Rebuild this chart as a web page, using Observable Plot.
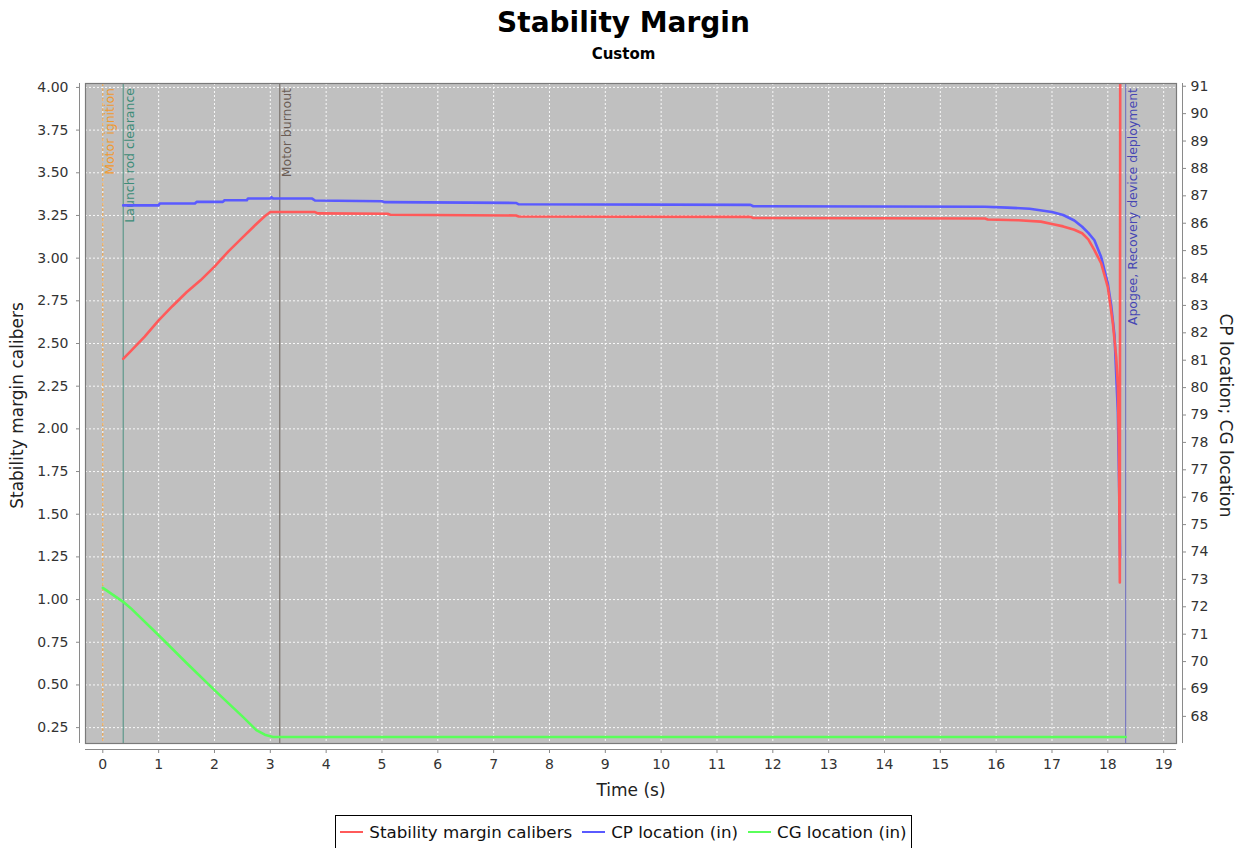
<!DOCTYPE html>
<html>
<head>
<meta charset="utf-8">
<script src="https://cdn.jsdelivr.net/npm/d3@7"></script>
<script src="https://cdn.jsdelivr.net/npm/@observablehq/plot@0.6"></script>
<style>
  html, body { margin: 0; padding: 0; background: #fff; }
  body { width: 1247px; height: 848px; overflow: hidden; font-family: "DejaVu Sans", sans-serif; color: #000; }
  #title { height: 45px; line-height: 45px; text-align: center; font-weight: bold; font-size: 28px; }
  #subtitle { height: 19px; line-height: 19px; text-align: center; font-weight: bold; font-size: 15px; }
  #chart svg { display: block; }
  #legend { width: fit-content; margin: 7px auto 0 auto; border: 1px solid #000; height: 40px; padding: 0 4px 6px 4px;
            display: flex; align-items: center; font-size: 16.7px; color: #111; box-sizing: border-box; }
  #legend .sw { display: inline-block; width: 23px; height: 2px; margin-right: 6px; }
  #legend .item { display: flex; align-items: center; margin-right: 10px; }
  #legend .item:last-child { margin-right: 0; }
</style>
</head>
<body>
<div id="title">Stability Margin</div>
<div id="subtitle">Custom</div>
<div id="chart"></div>
<div id="legend"></div>
<script>
// ---- Data ----
const seriesNames = ["Stability margin calibers", "CP location (in)", "CG location (in)"];

// Stability margin (left axis, calibers)
const stabilityTime  = [0.365, 0.47, 0.75, 1.0, 1.25, 1.5, 1.75, 2.0, 2.25, 2.5, 2.75, 2.9, 3.0, 3.8, 3.85, 5.1, 5.15, 7.4, 7.45, 11.6, 11.65, 15.8, 15.85, 16.4, 16.8, 17.0, 17.2, 17.4, 17.54, 17.65, 17.76, 17.88, 18.0, 18.09, 18.15, 18.18, 18.2, 18.215, 18.24];
const stabilityValue = [2.41, 2.445, 2.54, 2.635, 2.72, 2.8, 2.87, 2.95, 3.04, 3.12, 3.2, 3.245, 3.27, 3.27, 3.262, 3.26, 3.254, 3.25, 3.244, 3.242, 3.235, 3.232, 3.226, 3.222, 3.214, 3.2, 3.186, 3.166, 3.146, 3.11, 3.047, 2.97, 2.83, 2.62, 2.42, 2.25, 1.85, 1.1, 12];

// CP location (right axis, inches)
const cpTime  = [0.365, 1.0, 1.02, 1.65, 1.68, 2.15, 2.18, 2.58, 2.6, 3.0, 3.02, 3.05, 3.75, 3.8, 5.0, 5.05, 7.4, 7.45, 11.6, 11.65, 15.8, 16.2, 16.6, 17.0, 17.2, 17.4, 17.54, 17.65, 17.76, 17.88, 18.0, 18.06, 18.12, 18.18, 18.21, 18.22];
const cpValue = [86.65, 86.65, 86.72, 86.72, 86.78, 86.78, 86.84, 86.84, 86.9, 86.9, 86.95, 86.9, 86.9, 86.83, 86.8, 86.77, 86.74, 86.69, 86.67, 86.62, 86.6, 86.57, 86.53, 86.41, 86.3, 86.1, 85.87, 85.65, 85.38, 84.77, 83.8, 83.0, 81.9, 79.1, 75.5, 73.8];

// CG location (right axis, inches)
const cgTime  = [0, 0.365, 0.5, 1.0, 1.5, 2.0, 2.5, 2.75, 2.9, 3.05, 18.32];
const cgValue = [72.69, 72.18, 71.95, 70.96, 69.95, 68.96, 68.0, 67.5, 67.33, 67.25, 67.25];

// Flight events
const eventNames = ["Motor ignition", "Launch rod clearance", "Motor burnout", "Apogee, Recovery device deployment"];
const eventTimes = [0, 0.365, 3.17, 18.32];

// Ticks
const xTicks = d3.range(0, 20);
const leftTicks = d3.range(1, 17).map(i => i * 0.25);
const rightTicks = d3.range(68, 92);

// ---- Scales / styles ----
const xDomain = [-0.31, 19.23];
const leftDomain = [0.157, 4.023];
const rightDomain = [67.01, 91.1];
const toLeft = w => leftDomain[0] + (w - rightDomain[0]) * (leftDomain[1] - leftDomain[0]) / (rightDomain[1] - rightDomain[0]);
const fromLeft = v => rightDomain[0] + (v - leftDomain[0]) * (rightDomain[1] - rightDomain[0]) / (leftDomain[1] - leftDomain[0]);

const seriesColors = ["#ff5a5a", "#5a5aff", "#5aff5a"];
const eventLineColors = ["#f0a040", "#4a9080", "#6e665e", "#6a6ac0"];
const eventTextColors = ["#f09a30", "#3c8c78", "#6b5d55", "#4646b4"];

const stability = stabilityTime.map((t, i) => ({t, v: stabilityValue[i]}));
const cp = cpTime.map((t, i) => ({t, v: toLeft(cpValue[i])}));
const cg = cgTime.map((t, i) => ({t, v: toLeft(cgValue[i])}));
const events = eventNames.map((name, i) => ({name, t: eventTimes[i], line: eventLineColors[i], text: eventTextColors[i], dashed: i === 0}));

const axisColor = "#8a8a8a";
const labelColor = "#333";

const chart = Plot.plot({
  width: 1247,
  height: 744,
  marginTop: 19,
  marginBottom: 65,
  marginLeft: 85,
  marginRight: 71,
  style: {fontFamily: "DejaVu Sans, sans-serif", background: "white", overflow: "visible"},
  x: {domain: xDomain},
  y: {domain: leftDomain},
  color: {type: "identity"},
  marks: [
    Plot.frame({fill: "#c0c0c0"}),
    Plot.gridX(xTicks, {stroke: "white", strokeOpacity: 0.9, strokeDasharray: "2,2"}),
    Plot.gridY(leftTicks, {stroke: "white", strokeOpacity: 0.9, strokeDasharray: "2,2"}),
    // event lines
    Plot.ruleX(events.filter(d => d.dashed), {x: "t", stroke: "line", strokeWidth: 1, strokeDasharray: "3,2"}),
    Plot.ruleX(events.filter(d => !d.dashed), {x: "t", stroke: "line", strokeWidth: 1}),
    Plot.text(events, {x: "t", text: "name", frameAnchor: "top", rotate: -90, textAnchor: "end", lineAnchor: "top",
                       dx: 2, dy: 4.5, fill: "text", fontSize: 12.5}),
    // series
    Plot.line(cg, {x: "t", y: "v", stroke: seriesColors[2], strokeWidth: 2.6, clip: true}),
    Plot.line(cp, {x: "t", y: "v", stroke: seriesColors[1], strokeWidth: 2.6, clip: true}),
    Plot.line(stability, {x: "t", y: "v", stroke: seriesColors[0], strokeWidth: 2.6, clip: true}),
    Plot.frame({stroke: "#7a7a7a", strokeWidth: 1.2}),
    // axis lines (offset)
    Plot.ruleY([leftDomain[0]], {dy: 6, stroke: axisColor}),
    Plot.ruleX([xDomain[0]], {dx: -6, stroke: axisColor}),
    Plot.ruleX([xDomain[1]], {dx: 6, stroke: axisColor}),
    // axes
    Plot.axisX(xTicks, {anchor: "bottom", dy: 6, tickSize: 4, tickPadding: 6, fontSize: 14, stroke: axisColor, fill: labelColor,
                        tickFormat: d => String(d), label: null}),
    Plot.axisY(leftTicks, {anchor: "left", dx: -6, tickSize: 3, tickPadding: 8, fontSize: 14, stroke: axisColor, fill: labelColor,
                           tickFormat: d => d.toFixed(2), label: null}),
    Plot.axisY(rightTicks.map(toLeft), {anchor: "right", dx: 6, tickSize: 3, tickPadding: 5, fontSize: 14, stroke: axisColor, fill: labelColor,
                           tickFormat: v => String(Math.round(fromLeft(v))), label: null}),
    // axis titles
    Plot.text(["Stability margin calibers"], {text: d => d, frameAnchor: "left", textAnchor: "middle", lineAnchor: "middle",
                                              rotate: -90, dx: -67.5, dy: -8, fontSize: 17, fill: "#222"}),
    Plot.text(["CP location; CG location"], {text: d => d, frameAnchor: "right", textAnchor: "middle", lineAnchor: "middle",
                                             rotate: 90, dx: 49, dy: 2, fontSize: 17, fill: "#222"}),
    Plot.text(["Time (s)"], {text: d => d, frameAnchor: "bottom", textAnchor: "middle", lineAnchor: "middle",
                             dy: 47, fontSize: 17, fill: "#222"})
  ]
});
document.getElementById("chart").appendChild(chart);

// Legend
const legend = document.getElementById("legend");
seriesNames.forEach((name, i) => {
  const item = document.createElement("span");
  item.className = "item";
  const sw = document.createElement("span");
  sw.className = "sw";
  sw.style.background = seriesColors[i];
  const label = document.createElement("span");
  label.textContent = name;
  item.appendChild(sw);
  item.appendChild(label);
  legend.appendChild(item);
});
</script>
</body>
</html>
